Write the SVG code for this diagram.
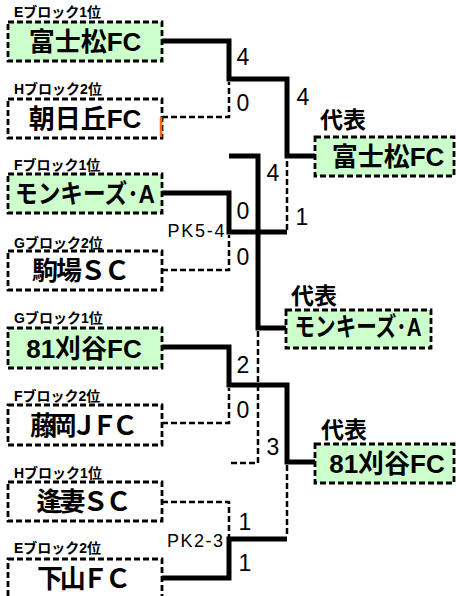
<svg xmlns="http://www.w3.org/2000/svg" width="456" height="596" viewBox="0 0 456 596">
<style>
.box{stroke:#000;stroke-width:2.8;stroke-dasharray:6 3;fill:#fff}
.win{fill:#ccffcc}
.thick{stroke:#000;stroke-width:5;fill:none;stroke-linejoin:miter}
.thin{stroke:#000;stroke-width:2.5;stroke-dasharray:6 3;fill:none}
.name{font-family:"Liberation Sans","Noto Sans CJK JP",sans-serif;font-weight:bold;font-size:26px;text-anchor:middle;fill:#000}
.blk{font-family:"Liberation Sans","Noto Sans CJK JP",sans-serif;font-weight:bold;font-size:14px;fill:#000}
.rep{font-family:"Noto Sans CJK JP",sans-serif;font-weight:bold;font-size:23px;fill:#000}
.score{font-family:"Liberation Sans",Arial,sans-serif;font-size:23px;text-anchor:middle;fill:#000}
.pk{font-family:"Liberation Sans",Arial,sans-serif;font-size:18px;text-anchor:middle;fill:#000}
</style>
<rect width="456" height="596" fill="#fff"/>
<g id="connectors">
<path class="thick" d="M162,41 H229 V79 H287 V156 H315"/>
<path class="thin" d="M162,117 H229 V82"/>
<path class="thick" d="M162,193 H229 V232 H287"/>
<path class="thin" d="M287,230 V159"/>
<path class="thin" d="M162,270 H229 V235"/>
<path class="thick" d="M229,156 H258 V328 H286"/>
<path class="thin" d="M258,331 V463 H229"/>
<path class="thick" d="M162,347 H229 V385 H287 V462 H315"/>
<path class="thin" d="M162,423 H229 V388"/>
<path class="thin" d="M287,465 V537"/>
<path class="thick" d="M162,578 H229 V539 H287"/>
<path class="thin" d="M162,502 H229 V537"/>
</g>
<g id="scores">
<text class="score" x="243" y="65">4</text>
<text class="score" x="243" y="111">0</text>
<text class="score" x="303" y="105">4</text>
<text class="score" x="273" y="181">4</text>
<text class="score" x="302" y="225">1</text>
<text class="score" x="243" y="219">0</text>
<text class="score" x="243" y="265">0</text>
<text class="score" x="243" y="373">2</text>
<text class="score" x="243" y="418">0</text>
<text class="score" x="273" y="455">3</text>
<text class="score" x="245" y="530">1</text>
<text class="score" x="245" y="571">1</text>
<text class="pk" x="196" y="237" textLength="57">PK5-4</text>
<text class="pk" x="195" y="547" textLength="56">PK2-3</text>
</g>
<g id="team-fujimatsu">
<text class="blk" x="14" y="17">Eブロック1位</text>
<rect class="box win" x="8" y="22" width="154" height="39"/>
<text class="name" x="85" y="51">富士松FC</text>
</g>
<g id="team-asahigaoka">
<text class="blk" x="14" y="94">Hブロック2位</text>
<rect class="box" x="8" y="99" width="154" height="39"/>
<line x1="161" y1="117" x2="161" y2="137" stroke="#ff6600" stroke-width="2.5"/>
<text class="name" x="85" y="128">朝日丘FC</text>
</g>
<g id="team-monkeys">
<text class="blk" x="14" y="170">Fブロック1位</text>
<rect class="box win" x="8" y="174" width="154" height="39"/>
<text class="name" x="85" y="203" font-size="24" textLength="140" lengthAdjust="spacingAndGlyphs">モンキーズ･A</text>
</g>
<g id="team-komaba">
<text class="blk" x="14" y="248">Gブロック2位</text>
<rect class="box" x="8" y="251" width="154" height="39"/>
<text class="name" x="81" y="280" textLength="98" lengthAdjust="spacing">駒場ＳＣ</text>
</g>
<g id="team-81kariya">
<text class="blk" x="14" y="323">Gブロック1位</text>
<rect class="box win" x="8" y="328" width="154" height="40"/>
<text class="name" x="84" y="358">81刈谷FC</text>
</g>
<g id="team-fujioka">
<text class="blk" x="14" y="401">Fブロック2位</text>
<rect class="box" x="8" y="405" width="154" height="40"/>
<text class="name" x="84" y="435" textLength="108" lengthAdjust="spacing">藤岡ＪＦＣ</text>
</g>
<g id="team-aizuma">
<text class="blk" x="14" y="478">Hブロック1位</text>
<rect class="box" x="8" y="482" width="154" height="39"/>
<text class="name" x="84" y="511" textLength="95" lengthAdjust="spacing">逢妻ＳＣ</text>
</g>
<g id="team-shimoyama">
<text class="blk" x="14" y="553">Eブロック2位</text>
<rect class="box" x="8" y="559" width="154" height="40"/>
<text class="name" x="84" y="588" textLength="94" lengthAdjust="spacing">下山ＦＣ</text>
</g>
<g id="rep-fujimatsu">
<text class="rep" x="320" y="128">代表</text>
<rect class="box win" x="315" y="137" width="139" height="39"/>
<text class="name" x="388" y="166">富士松FC</text>
</g>
<g id="rep-monkeys">
<text class="rep" x="291" y="304">代表</text>
<rect class="box win" x="286" y="310" width="145" height="38"/>
<text class="name" x="358" y="336" font-size="21" textLength="127" lengthAdjust="spacingAndGlyphs">モンキーズ･A</text>
</g>
<g id="rep-81kariya">
<text class="rep" x="321" y="438">代表</text>
<rect class="box win" x="315" y="444" width="139" height="39"/>
<text class="name" x="387" y="473">81刈谷FC</text>
</g>
</svg>
